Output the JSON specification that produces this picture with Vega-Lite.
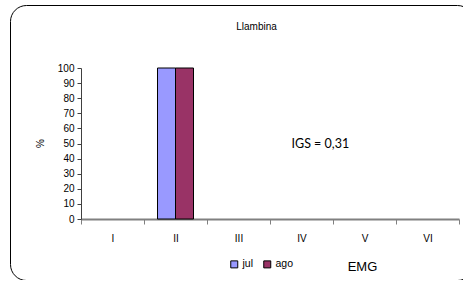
{
  "$schema": "https://vega.github.io/schema/vega-lite/v6.json",
  "width": 463,
  "height": 275,
  "autosize": {"type": "none"},
  "padding": {"left": 10, "top": 5, "right": 0, "bottom": 0},
  "background": "white",
  "config": {
    "view": {"stroke": "black", "strokeWidth": 1, "cornerRadius": 16, "fill": "white"},
    "font": "Liberation Sans",
    "axis": {"labelFont": "Liberation Sans", "titleFont": "Liberation Sans"},
    "legend": {"labelFont": "Liberation Sans"}
  },
  "title": {
    "text": "Llambina",
    "fontSize": 10,
    "fontWeight": "normal",
    "font": "Liberation Sans",
    "color": "black",
    "anchor": "middle",
    "dx": 15,
    "offset": -27
  },
  "datasets": {
    "bars": [
      {"emg": "I", "mes": "jul", "pct": 0},
      {"emg": "I", "mes": "ago", "pct": 0},
      {"emg": "II", "mes": "jul", "pct": 100},
      {"emg": "II", "mes": "ago", "pct": 100},
      {"emg": "III", "mes": "jul", "pct": 0},
      {"emg": "III", "mes": "ago", "pct": 0},
      {"emg": "IV", "mes": "jul", "pct": 0},
      {"emg": "IV", "mes": "ago", "pct": 0},
      {"emg": "V", "mes": "jul", "pct": 0},
      {"emg": "V", "mes": "ago", "pct": 0},
      {"emg": "VI", "mes": "jul", "pct": 0},
      {"emg": "VI", "mes": "ago", "pct": 0}
    ],
    "note": [
      {"emg": "IV", "pct": 50, "label": "IGS = 0,31"}
    ]
  },
  "encoding": {
    "x": {
      "field": "emg",
      "type": "nominal",
      "sort": ["I", "II", "III", "IV", "V", "VI"],
      "scale": {"range": [71, 449], "paddingInner": 0, "paddingOuter": 0},
      "axis": {
        "title": "EMG",
        "titleFont": "Liberation Sans",
        "titleFontSize": 13,
        "titleFontWeight": "normal",
        "titleColor": "black",
        "titleX": 352,
        "titleY": 47,
        "titleBaseline": "middle",
        "titleAlign": "center",
        "offset": -61,
        "labelAngle": 0,
        "labelFont": "Liberation Sans",
        "labelFontSize": 10,
        "labelColor": "black",
        "labelPadding": 9,
        "tickBand": "extent",
        "tickSize": 5,
        "tickColor": "#808080",
        "domainColor": "#808080",
        "domainWidth": 2,
        "grid": false
      }
    },
    "y": {
      "field": "pct",
      "type": "quantitative",
      "scale": {"domain": [0, 100], "range": [214, 63], "nice": false, "zero": true},
      "axis": {
        "title": "%",
        "titleFont": "Liberation Sans",
        "titleFontSize": 10,
        "titleFontWeight": "normal",
        "titleColor": "black",
        "titleX": -41,
        "titleY": 138,
        "titleAngle": -90,
        "titleAlign": "center",
        "titleBaseline": "middle",
        "offset": -71,
        "values": [0, 10, 20, 30, 40, 50, 60, 70, 80, 90, 100],
        "labelOverlap": false,
        "labelFont": "Liberation Sans",
        "labelFontSize": 10,
        "labelColor": "black",
        "labelPadding": 3,
        "tickSize": 4,
        "tickColor": "#404040",
        "domainColor": "#404040",
        "grid": false
      }
    }
  },
  "layer": [
    {
      "data": {"name": "bars"},
      "mark": {"type": "bar", "stroke": "black", "strokeWidth": 1},
      "encoding": {
        "xOffset": {
          "field": "mes",
          "type": "nominal",
          "sort": ["jul", "ago"],
          "scale": {"paddingOuter": 0.75, "paddingInner": 0}
        },
        "strokeOpacity": {"condition": {"test": "datum.pct > 0", "value": 1}, "value": 0},
        "color": {
          "field": "mes",
          "type": "nominal",
          "sort": ["jul", "ago"],
          "scale": {"domain": ["jul", "ago"], "range": ["#9999FF", "#993366"]},
          "legend": {
            "title": null,
            "orient": "none",
            "direction": "horizontal",
            "legendX": 219,
            "legendY": 254,
            "symbolType": "square",
            "symbolSize": 49,
            "symbolStrokeColor": "black",
            "symbolStrokeWidth": 1,
            "symbolOpacity": 1,
            "labelFont": "Liberation Sans",
            "labelFontSize": 10.5,
            "labelColor": "black",
            "labelOffset": 3,
            "columnPadding": 7
          }
        }
      }
    },
    {
      "data": {"name": "note"},
      "mark": {"type": "text", "align": "left", "baseline": "middle", "dx": -10, "font": "Lato", "fontSize": 12.5, "color": "black"},
      "encoding": {
        "text": {"field": "label"}
      }
    }
  ]
}
